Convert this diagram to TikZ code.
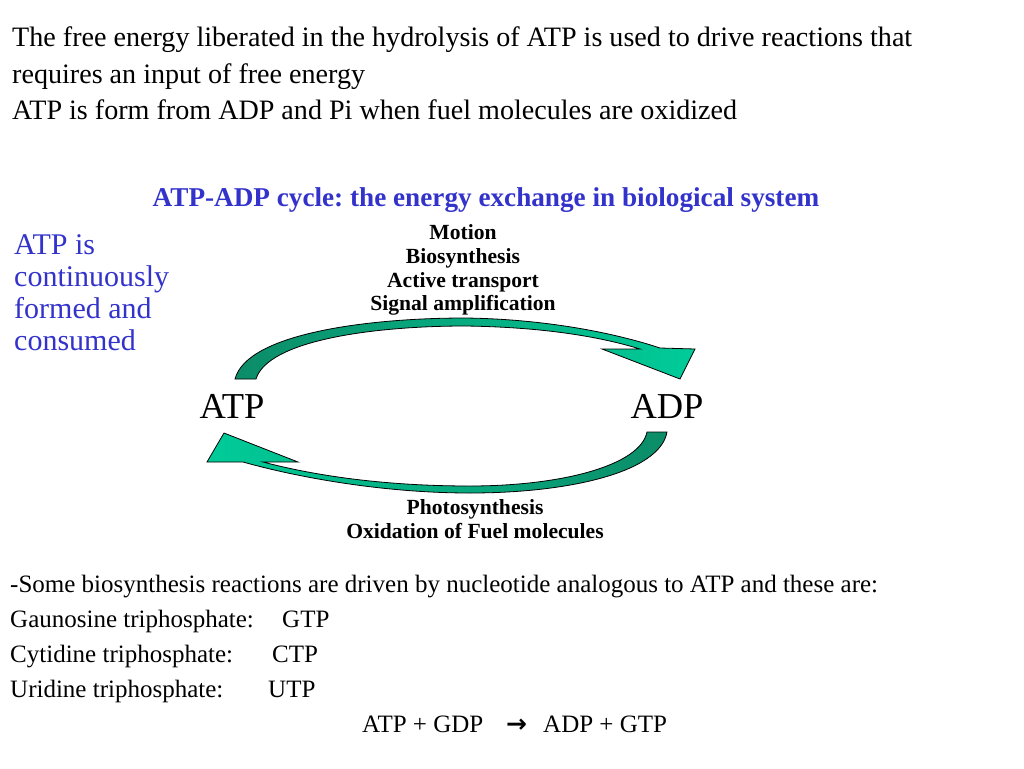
\documentclass[tikz,border=0pt]{standalone}
\usepackage{fontspec}
\setmainfont{Liberation Serif}
\newfontfamily\djv{DejaVu Sans}
\definecolor{ttblue}{RGB}{51,51,204}
\definecolor{arrdark}{RGB}{12,140,104}
\definecolor{arrlight}{RGB}{0,204,153}
\begin{document}
\frenchspacing
\begin{tikzpicture}[x=1pt,y=-1pt,
  txt/.style={anchor=base west,inner sep=0pt,font=\fontsize{28.1}{32}\selectfont},
  small/.style={anchor=base west,inner sep=0pt,font=\fontsize{25}{29}\selectfont},
  blue/.style={anchor=base west,inner sep=0pt,text=ttblue,font=\fontsize{30}{34}\selectfont},
  ttl/.style={anchor=base,inner sep=0pt,text=ttblue,font=\fontsize{27.2}{31}\selectfont\bfseries},
  lbl/.style={anchor=base,inner sep=0pt,font=\fontsize{21.6}{25}\selectfont\bfseries},
  mol/.style={anchor=base,inner sep=0pt,font=\fontsize{36.5}{40}\selectfont},
  cyc/.style={draw=black,line width=0.8pt,line join=miter}
]
\useasboundingbox[fill=white] (0,0) rectangle (1024,768);

\node[txt] (l1) at (12,47) {The free energy liberated in the hydrolysis of ATP is used to drive reactions that};
\node[txt] (l2) at (12,83) {requires an input of free energy};
\node[txt] (l3) at (12,119) {ATP is form from ADP and Pi when fuel molecules are oxidized};

\node[ttl] (title) at (486,206) {ATP-ADP cycle: the energy exchange in biological system};

\node[blue] (b1) at (14,254) {ATP is};
\node[blue] (b2) at (14,286) {continuously};
\node[blue] (b3) at (14,318) {formed and};
\node[blue] (b4) at (14,350) {consumed};

\node[lbl] (m1) at (463,239) {Motion};
\node[lbl] (m2) at (463,263) {Biosynthesis};
\node[lbl] (m3) at (463,287) {Active transport};
\node[lbl] (m4) at (463,310) {Signal amplification};

\node[mol] (atp) at (232,418) {ATP};
\node[mol] (adp) at (667,418) {ADP};

\node[lbl] (p1) at (475,514) {Photosynthesis};
\node[lbl] (p2) at (475,538) {Oxidation of Fuel molecules};

% top arrow ATP -> ADP
\draw[cyc,left color=arrdark,right color=arrlight]
  (235,379) .. controls (247,333) and (370,318) .. (465,318)
  .. controls (545,319) and (615,333) .. (660,348)
  -- (695,349) -- (680,379) -- (602,349) -- (640,349)
  .. controls (598,336) and (540,327) .. (465,326)
  .. controls (375,326) and (268,340) .. (256,379) -- cycle;

% bottom arrow ADP -> ATP
\draw[cyc,right color=arrdark,left color=arrlight]
  (667,432) .. controls (660,472) and (570,493) .. (470,493)
  .. controls (385,493) and (300,478) .. (243,462)
  -- (207,462) -- (224,433) -- (298,462) -- (263,462)
  .. controls (320,477) and (390,486) .. (470,486)
  .. controls (560,486) and (640,466) .. (647,432) -- cycle;

\node[small] (s1) at (10,592) {-Some biosynthesis reactions are driven by nucleotide analogous to ATP and these are:};
\node[small] (g1) at (10,627) {Gaunosine triphosphate:};
\node[small] (g2) at (282,627) {GTP};
\node[small] (c1) at (10,662) {Cytidine triphosphate:};
\node[small] (c2) at (272,662) {CTP};
\node[small] (u1) at (10,697) {Uridine triphosphate:};
\node[small] (u2) at (268,697) {UTP};
\node[small] (f1) at (362,732) {ATP + GDP};
\node[small] (f2) at (506,732) {\djv\bfseries →};
\node[small] (f3) at (543,732) {ADP + GTP};
\end{tikzpicture}
\end{document}
